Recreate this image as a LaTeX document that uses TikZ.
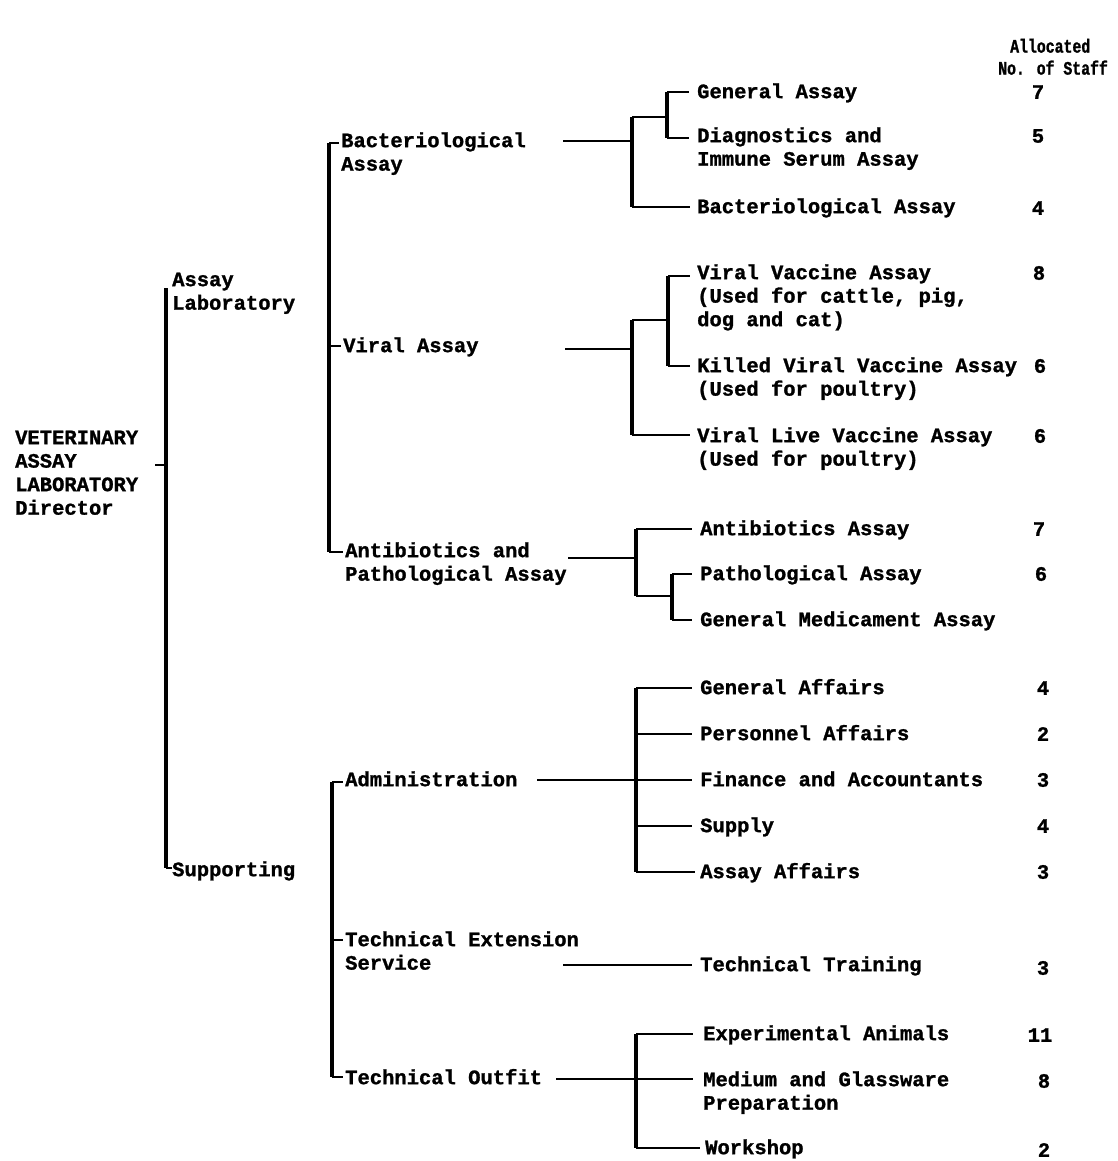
\documentclass[tikz,border=0pt]{standalone}
\usepackage{fontspec}
\newfontfamily\labfont{Liberation Mono}[BoldFeatures={FakeBold=1.2}]
\newfontfamily\hdrfont{Liberation Mono}[FakeStretch=0.78,BoldFeatures={FakeBold=1.2}]
\usetikzlibrary{calc}
\tikzset{
  lab/.style={anchor=north west, yshift=10.5pt, inner sep=0pt, align=left,
    font={\labfont\bfseries\fontsize{20.5pt}{23.5pt}\selectfont}},
  hdr/.style={anchor=north west, yshift=11pt, inner sep=0pt, align=left,
    font={\hdrfont\bfseries\fontsize{19pt}{22pt}\selectfont}},
  num/.style={anchor=center, inner sep=0pt,
    font={\labfont\bfseries\fontsize{20.5pt}{23.5pt}\selectfont}},
  bar/.style={line width=4pt},
  link/.style={line width=1.5pt},
}
\begin{document}
\begin{tikzpicture}[x=1pt,y=-1pt]
\useasboundingbox (0,0) rectangle (1117,1161);
% header
\node[hdr] (hdr) at (998,48) {\strut\hspace*{12pt}Allocated\\\strut No. of Staff};
% level 1
\node[lab] (dir) at (15,438) {\strut VETERINARY\\\strut ASSAY\\\strut LABORATORY\\\strut Director};
\node[lab] (asl) at (172,280) {\strut Assay\\\strut Laboratory};
\node[lab] (sup) at (172,870) {\strut Supporting};
\coordinate (m1t) at (166,288);
\coordinate (m1b) at (166,868);
\coordinate (m1d) at (166,465);
\draw[bar] (m1t) -- (m1b);
\draw[link] (m1b) -- (m1b -| sup.west);
\draw[link] (m1d) -- ($(m1d -| dir.east)+(17,0)$);
% level 2: assay laboratory
\node[lab] (bact) at (341,141) {\strut Bacteriological\\\strut Assay};
\node[lab] (vir)  at (343,346) {\strut Viral Assay};
\node[lab] (anti) at (345,551) {\strut Antibiotics and\\\strut Pathological Assay};
\coordinate (a2t) at (329,143);
\coordinate (a2v) at (329,346);
\coordinate (a2b) at (329,552);
\draw[bar] (a2t) -- (a2b);
\draw[link] (a2t) -- ($(a2t -| bact.west)+(-2,0)$);
\draw[link] (a2v) -- ($(a2v -| vir.west)+(-2,0)$);
\draw[link] (a2b) -- ($(a2b -| anti.west)+(-2,0)$);
% level 2: supporting
\node[lab] (adm)  at (345,780) {\strut Administration};
\node[lab] (tes)  at (345,940) {\strut Technical Extension\\\strut Service};
\node[lab] (tout) at (345,1078) {\strut Technical Outfit};
\coordinate (s2t) at (332,782);
\coordinate (s2e) at (332,940);
\coordinate (s2b) at (332,1077);
\draw[bar] (s2t) -- (s2b);
\draw[link] (s2t) -- ($(s2t -| adm.west)+(-2,0)$);
\draw[link] (s2e) -- ($(s2e -| tes.west)+(-2,0)$);
\draw[link] (s2b) -- ($(s2b -| tout.west)+(-2,0)$);
% leaves: bacteriological
\node[lab] (ga)  at (697,92)  {\strut General Assay};
\node[lab] (dis) at (697,136) {\strut Diagnostics and\\\strut Immune Serum Assay};
\node[lab] (ba)  at (697,207) {\strut Bacteriological Assay};
\coordinate (b0) at (563,141);
\coordinate (b1) at (632,141);
\coordinate (bt) at (632,117);
\coordinate (bb) at (632,207);
\coordinate (bm) at (667,117);
\coordinate (c1t) at (667,92);
\coordinate (c1b) at (667,138);
\draw[link] (b0) -- (b1);
\draw[bar] (bt) -- (bb);
\draw[link] (bt) -- (bm);
\draw[bar] (c1t) -- (c1b);
\draw[link] (c1t) -- ($(c1t -| ga.west)+(-8,0)$);
\draw[link] (c1b) -- ($(c1b -| dis.west)+(-8,0)$);
\draw[link] (bb) -- ($(bb -| ba.west)+(-7,0)$);
% leaves: viral
\node[lab] (vva) at (697,273) {\strut Viral Vaccine Assay\\\strut (Used for cattle, pig,\\\strut dog and cat)};
\node[lab] (kvv) at (697,366) {\strut Killed Viral Vaccine Assay\\\strut (Used for poultry)};
\node[lab] (vlv) at (697,436) {\strut Viral Live Vaccine Assay\\\strut (Used for poultry)};
\coordinate (v0) at (565,349);
\coordinate (v1) at (632,349);
\coordinate (vt) at (632,320);
\coordinate (vb) at (632,435);
\coordinate (vm) at (668,320);
\coordinate (c2t) at (668,276);
\coordinate (c2b) at (668,366);
\draw[link] (v0) -- (v1);
\draw[bar] (vt) -- (vb);
\draw[link] (vt) -- (vm);
\draw[bar] (c2t) -- (c2b);
\draw[link] (c2t) -- ($(c2t -| vva.west)+(-7,0)$);
\draw[link] (c2b) -- ($(c2b -| kvv.west)+(-7,0)$);
\draw[link] (vb) -- ($(vb -| vlv.west)+(-7,0)$);
% leaves: antibiotics
\node[lab] (aa)  at (700,529) {\strut Antibiotics Assay};
\node[lab] (pa)  at (700,574) {\strut Pathological Assay};
\node[lab] (gma) at (700,620) {\strut General Medicament Assay};
\coordinate (p0) at (568,558);
\coordinate (p1) at (636,558);
\coordinate (pt) at (636,529);
\coordinate (pb) at (636,596);
\coordinate (pm) at (672,596);
\coordinate (c3t) at (672,574);
\coordinate (c3b) at (672,620);
\draw[link] (p0) -- (p1);
\draw[bar] (pt) -- (pb);
\draw[link] (pt) -- ($(pt -| aa.west)+(-8,0)$);
\draw[link] (pb) -- (pm);
\draw[bar] (c3t) -- (c3b);
\draw[link] (c3t) -- ($(c3t -| pa.west)+(-8,0)$);
\draw[link] (c3b) -- ($(c3b -| gma.west)+(-8,0)$);
% leaves: administration
\node[lab] (gaf) at (700,688) {\strut General Affairs};
\node[lab] (paf) at (700,734) {\strut Personnel Affairs};
\node[lab] (fa)  at (700,780) {\strut Finance and Accountants};
\node[lab] (sp)  at (700,826) {\strut Supply};
\node[lab] (asa) at (700,872) {\strut Assay Affairs};
\coordinate (d0) at (537,780);
\coordinate (dt) at (636,688);
\coordinate (d2) at (636,734);
\coordinate (d3) at (636,780);
\coordinate (d4) at (636,826);
\coordinate (db) at (636,872);
\draw[link] (d0) -- (d3);
\draw[bar] (dt) -- (db);
\draw[link] (dt) -- ($(dt -| gaf.west)+(-8,0)$);
\draw[link] (d2) -- ($(d2 -| paf.west)+(-8,0)$);
\draw[link] (d3) -- ($(d3 -| fa.west)+(-8,0)$);
\draw[link] (d4) -- ($(d4 -| sp.west)+(-8,0)$);
\draw[link] (db) -- ($(db -| asa.west)+(-5,0)$);
% leaves: technical extension
\node[lab] (tt) at (700,965) {\strut Technical Training};
\coordinate (e0) at (563,965);
\draw[link] (e0) -- ($(e0 -| tt.west)+(-8,0)$);
% leaves: technical outfit
\node[lab] (ea) at (703,1034) {\strut Experimental Animals};
\node[lab] (mg) at (703,1080) {\strut Medium and Glassware\\\strut Preparation};
\node[lab] (ws) at (705,1148) {\strut Workshop};
\coordinate (o0) at (556,1079);
\coordinate (ot) at (636,1034);
\coordinate (om) at (636,1079);
\coordinate (ob) at (636,1148);
\draw[link] (o0) -- (om);
\draw[bar] (ot) -- (ob);
\draw[link] (ot) -- ($(ot -| ea.west)+(-10,0)$);
\draw[link] (om) -- ($(om -| mg.west)+(-10,0)$);
\draw[link] (ob) -- ($(ob -| ws.west)+(-5,0)$);
% staff numbers
\node[num] (n1)  at (1038,92)  {7};
\node[num] (n2)  at (1038,136) {5};
\node[num] (n3)  at (1038,208) {4};
\node[num] (n4)  at (1039,273) {8};
\node[num] (n5)  at (1040,366) {6};
\node[num] (n6)  at (1040,436) {6};
\node[num] (n7)  at (1039,529) {7};
\node[num] (n8)  at (1041,574) {6};
\node[num] (n9)  at (1043,688) {4};
\node[num] (n10) at (1043,734) {2};
\node[num] (n11) at (1043,780) {3};
\node[num] (n12) at (1043,826) {4};
\node[num] (n13) at (1043,872) {3};
\node[num] (n14) at (1043,968) {3};
\node[num] (n15) at (1040,1035) {11};
\node[num] (n16) at (1044,1081) {8};
\node[num] (n17) at (1044,1150) {2};
\end{tikzpicture}
\end{document}
